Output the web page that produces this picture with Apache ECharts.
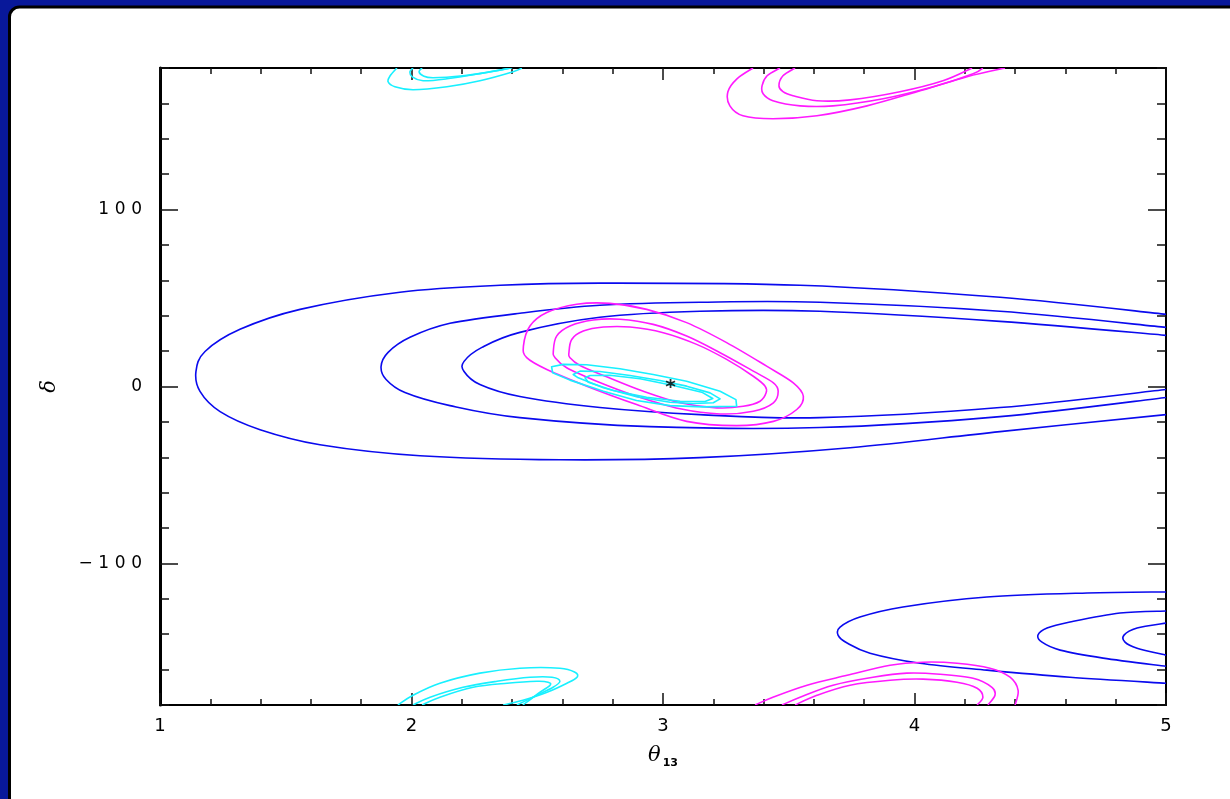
<!DOCTYPE html>
<html><head><meta charset="utf-8">
<script src="https://cdn.jsdelivr.net/npm/echarts@6/dist/echarts.min.js"></script>
<style>html,body{margin:0;padding:0;background:#08189a;}#c{width:1230px;height:799px;}</style>
</head><body><div id="c"></div>
<script>
// ---- data (theta13 [deg], delta [deg]) ----
const xTickValues = [1, 2, 3, 4, 5];
const yTickLabels = [-100, 0, 100];

// central blue contours (open on the right edge)
const blueOuter = [[5.0,40.8],[4.34,50.4],[3.545,57.2],[2.749,58.4],[2.352,57.2],[1.954,53.3],[1.557,43.6],[1.318,32.3],[1.179,19.8],[1.143,8.5],[1.159,-2.8],[1.239,-14.2],[1.398,-24.4],[1.636,-32.9],[2.034,-39.1],[2.59,-41.4],[3.147,-40.2],[3.744,-34.6],[4.34,-25.5],[5.0,-15.9]];
const blueMiddle = [[5.0,33.4],[4.34,42.5],[3.624,47.6],[3.147,47.6],[2.749,45.9],[2.431,41.4],[2.153,35.7],[1.994,27.8],[1.907,19.3],[1.879,11.3],[1.899,4.0],[1.974,-3.4],[2.153,-10.8],[2.431,-17.6],[2.948,-22.7],[3.624,-23.2],[4.34,-17.0],[5.0,-6.2]];
const blueInner = [[5.0,28.9],[4.34,36.8],[3.624,42.5],[3.147,42.5],[2.749,39.1],[2.431,30.6],[2.28,22.1],[2.209,14.2],[2.209,8.5],[2.272,1.1],[2.431,-5.7],[2.749,-11.9],[3.147,-15.9],[3.624,-17.6],[4.34,-11.9],[5.0,-1.7]];
// lower-right blue contours
const blueLowOuter = [[5.0,-116.1],[4.686,-116.7],[4.288,-119.0],[3.954,-124.6],[3.783,-130.3],[3.704,-136.0],[3.696,-140.5],[3.732,-145.0],[3.823,-150.7],[4.022,-156.4],[4.288,-160.3],[4.618,-164.3],[5.0,-167.7]];
const blueLowMiddle = [[5.0,-126.9],[4.817,-128.0],[4.618,-133.1],[4.527,-136.5],[4.491,-140.5],[4.507,-144.5],[4.579,-149.0],[4.75,-153.5],[5.0,-158.1]];
const blueLowInner = [[5.0,-133.7],[4.885,-136.5],[4.833,-140.5],[4.837,-144.5],[4.885,-147.9],[5.0,-151.8]];

// central magenta contours (closed)
const magOuter = [[2.445,22.8],[2.471,34.2],[2.538,41.8],[2.657,46.5],[2.789,47.0],[2.935,43.6],[3.094,36.1],[3.253,24.8],[3.412,11.5],[3.518,2.1],[3.558,-5.5],[3.532,-13.0],[3.439,-19.7],[3.293,-22.1],[3.094,-19.7],[2.895,-10.2],[2.697,0.2],[2.538,9.6],[2.458,16.3]];
const magMiddle = [[2.564,20.0],[2.577,28.5],[2.63,34.2],[2.723,37.6],[2.829,38.0],[2.961,35.1],[3.094,28.5],[3.227,19.1],[3.359,8.7],[3.439,2.1],[3.458,-2.7],[3.439,-9.2],[3.359,-14.0],[3.227,-15.5],[3.068,-12.6],[2.895,-5.5],[2.736,3.0],[2.617,10.6],[2.571,16.3]];
const magInner = [[2.626,19.1],[2.637,26.6],[2.683,31.3],[2.763,33.6],[2.869,33.6],[3.001,30.4],[3.134,23.8],[3.253,15.3],[3.359,5.8],[3.406,0.2],[3.41,-3.6],[3.386,-8.3],[3.319,-11.2],[3.214,-12.1],[3.068,-9.2],[2.922,-2.7],[2.776,5.5],[2.67,11.9],[2.63,16.3]];
// magenta at delta = +180 / -180
const magTopOuter = [[3.358,180],[3.294,173.9],[3.258,166.6],[3.266,158.6],[3.318,153.0],[3.437,151.3],[3.612,153.0],[3.811,158.6],[4.01,166.6],[4.209,175.1],[4.36,180]];
const magTopMiddle = [[3.465,180],[3.414,175.6],[3.394,170.0],[3.398,165.4],[3.437,161.5],[3.545,158.6],[3.676,158.6],[3.875,162.6],[4.074,169.4],[4.233,176.8],[4.272,180]];
const magTopInner = [[3.525,180],[3.477,175.6],[3.461,170.0],[3.477,166.6],[3.517,164.3],[3.612,161.5],[3.744,162.0],[3.942,166.6],[4.113,172.8],[4.229,180]];
const magBotOuter = [[3.366,-180],[3.437,-175.6],[3.573,-168.8],[3.732,-163.2],[3.903,-157.5],[4.034,-155.8],[4.169,-156.4],[4.3,-159.2],[4.38,-164.3],[4.412,-171.7],[4.4,-180]];
const magBotMiddle = [[3.473,-180],[3.545,-175.6],[3.676,-168.8],[3.835,-164.3],[3.97,-162.0],[4.101,-162.6],[4.233,-164.9],[4.308,-170.0],[4.32,-174.5],[4.292,-180]];
const magBotInner = [[3.525,-180],[3.612,-174.5],[3.744,-168.8],[3.903,-166.0],[4.034,-165.4],[4.169,-167.1],[4.249,-170.5],[4.272,-175.6],[4.249,-180]];

// central cyan contours (closed, polygonal)
const cyanOuter = [[2.557,11.2],[2.561,7.8],[2.63,3.6],[2.763,-2.7],[2.895,-7.9],[3.028,-10.8],[3.16,-11.5],[3.293,-11.2],[3.29,-7.4],[3.227,-2.7],[3.094,3.0],[2.961,6.8],[2.829,10.0],[2.697,12.3],[2.604,12.5]];
const cyanMiddle = [[2.643,6.8],[2.663,4.9],[2.763,-0.7],[2.895,-5.8],[3.028,-8.9],[3.12,-9.6],[3.2,-9.2],[3.227,-7.0],[3.187,-3.6],[3.094,0.2],[2.988,3.4],[2.869,6.2],[2.749,8.5],[2.67,8.7]];
const cyanInner = [[2.69,4.9],[2.703,2.4],[2.802,-2.3],[2.935,-6.1],[3.068,-8.3],[3.167,-8.5],[3.198,-6.8],[3.154,-3.2],[3.041,0.6],[2.909,4.4],[2.789,6.4],[2.71,6.2]];
// cyan at delta = +180 / -180
const cyanTopOuter = [[1.942,180],[1.915,175.6],[1.907,172.2],[1.934,169.4],[2.006,167.7],[2.141,169.4],[2.272,172.8],[2.404,177.9],[2.439,180]];
const cyanTopMiddle = [[2.006,180],[1.994,177.9],[2.002,175.1],[2.046,172.8],[2.141,173.9],[2.272,176.8],[2.38,179.6],[2.4,180]];
const cyanTopInner = [[2.042,180],[2.03,177.9],[2.046,175.6],[2.085,174.5],[2.205,175.6],[2.34,178.5],[2.392,180]];
const cyanBotOuter = [[1.946,-180],[2.006,-174.5],[2.113,-167.7],[2.272,-162.0],[2.431,-159.2],[2.59,-159.2],[2.65,-161.5],[2.658,-164.3],[2.618,-167.7],[2.539,-172.8],[2.443,-177.3],[2.364,-180]];
const cyanBotMiddle = [[2.006,-180],[2.074,-175.6],[2.205,-170.0],[2.34,-166.6],[2.471,-164.3],[2.559,-164.3],[2.59,-166.6],[2.563,-170.0],[2.499,-174.5],[2.419,-180]];
const cyanBotInner = [[2.042,-180],[2.113,-175.6],[2.245,-170.0],[2.38,-167.7],[2.499,-166.6],[2.543,-167.1],[2.551,-168.8],[2.511,-172.8],[2.443,-180]];

const bestFit = [[3.03, 1.7]];

// ---- chart ----
const BLUE = '#0a0aee', MAG = '#ff1aff', CYAN = '#18f0ff';
const FONT = 'DejaVu Sans';

// Catmull-Rom bezier path through pixel points (rendering only)
function smoothPath(pts, isClosed) {
  const n = pts.length;
  const get = i => isClosed ? pts[(i + n) % n] : pts[Math.max(0, Math.min(n - 1, i))];
  let d = 'M' + pts[0][0] + ',' + pts[0][1];
  const segs = isClosed ? n : n - 1;
  for (let i = 0; i < segs; i++) {
    const p0 = get(i - 1), p1 = get(i), p2 = get(i + 1), p3 = get(i + 2);
    const c1 = [p1[0] + (p2[0] - p0[0]) / 6, p1[1] + (p2[1] - p0[1]) / 6];
    const c2 = [p2[0] - (p3[0] - p1[0]) / 6, p2[1] - (p3[1] - p1[1]) / 6];
    d += ' C' + c1[0] + ',' + c1[1] + ' ' + c2[0] + ',' + c2[1] + ' ' + p2[0] + ',' + p2[1];
  }
  if (isClosed) d += ' Z';
  return d;
}
function polyPath(pts) {
  return 'M' + pts.map(p => p[0] + ',' + p[1]).join(' L') + ' Z';
}
function contour(data, color, kind) {
  return {type:'custom', coordinateSystem:'cartesian2d', data:[data[0]], clip:true, z:3, silent:true, animation:false,
    renderItem:(params, api) => {
      const pts = data.map(p => api.coord(p));
      const d = kind === 'poly' ? polyPath(pts) : smoothPath(pts, kind === 'loop');
      return {type:'path', shape:{pathData:d}, style:{fill:'none', stroke:color, lineWidth:1.6, lineJoin:'round'}};
    }};
}
const series = [
  contour(blueOuter, BLUE, 'open'), contour(blueMiddle, BLUE, 'open'), contour(blueInner, BLUE, 'open'),
  contour(blueLowOuter, BLUE, 'open'), contour(blueLowMiddle, BLUE, 'open'), contour(blueLowInner, BLUE, 'open'),
  contour(magOuter, MAG, 'loop'), contour(magMiddle, MAG, 'loop'), contour(magInner, MAG, 'loop'),
  contour(magTopOuter, MAG, 'open'), contour(magTopMiddle, MAG, 'open'), contour(magTopInner, MAG, 'open'),
  contour(magBotOuter, MAG, 'open'), contour(magBotMiddle, MAG, 'open'), contour(magBotInner, MAG, 'open'),
  contour(cyanOuter, CYAN, 'poly'), contour(cyanMiddle, CYAN, 'poly'), contour(cyanInner, CYAN, 'poly'),
  contour(cyanTopOuter, CYAN, 'open'), contour(cyanTopMiddle, CYAN, 'open'), contour(cyanTopInner, CYAN, 'open'),
  contour(cyanBotOuter, CYAN, 'open'), contour(cyanBotMiddle, CYAN, 'open'), contour(cyanBotInner, CYAN, 'open'),
  {type:'scatter', data:bestFit, z:5, silent:true, animation:false,
   symbol:'path://M0,-5L0,5M-4.33,-2.5L4.33,2.5M-4.33,2.5L4.33,-2.5', symbolSize:9,
   itemStyle:{color:'rgba(0,0,0,0)', borderColor:'#000', borderWidth:1.8}}
];

const tickStyle = {color:'#111', width:1.5};
const spaced = s => s.split('').join('\u2004');
function xAx(pos, interval, len, showLine, labels) {
  return {type:'value', min:1, max:5, interval, position:pos, splitLine:{show:false},
    axisLine:{show:showLine, onZero:false, lineStyle:{color:'#000', width:2}},
    axisTick:{show:true, inside:true, length:len, lineStyle:tickStyle},
    axisLabel: labels ? {show:true, margin:12, fontSize:18, color:'#000', fontFamily:FONT,
      showMinLabel:true, showMaxLabel:true, formatter: v => xTickValues.includes(v) ? String(v) : ''} : {show:false}};
}
function yAx(pos, opts) {
  return Object.assign({type:'value', min:-180, max:180, position:pos, splitLine:{show:false},
    axisLine:{show:false, onZero:false}, axisLabel:{show:false}}, opts);
}
const fmtY = v => v < 0 ? '\u2212\u2004' + spaced(String(-v)) : spaced(String(v));

const xAxes = [
  Object.assign(xAx('bottom', 1, 12, true, true), {
    name:'{t|θ}{s|13}', nameLocation:'middle', nameGap:40,
    nameTextStyle:{rich:{t:{fontSize:21, fontStyle:'italic', fontFamily:'DejaVu Serif', color:'#000', verticalAlign:'top', lineHeight:24},
                         s:{fontSize:11, fontFamily:FONT, fontWeight:'bold', color:'#000', verticalAlign:'bottom', lineHeight:11, padding:[0,0,0,2]}}}}),
  xAx('bottom', 0.2, 6, false, false),
  xAx('top', 1, 12, true, false),
  xAx('top', 0.2, 6, false, false)
];
const yAxes = [
  yAx('left', {interval:20, axisLine:{show:true, onZero:false, lineStyle:{color:'#000', width:3}},
    axisTick:{show:true, inside:true, length:9, lineStyle:tickStyle},
    name:'δ', nameLocation:'middle', nameGap:100, nameRotate:90,
    nameTextStyle:{fontSize:21, fontStyle:'italic', fontFamily:'DejaVu Serif', color:'#000'}}),
  yAx('left', {axisTick:{show:true, inside:true, length:18, customValues:yTickLabels, lineStyle:tickStyle},
    axisLabel:{show:true, customValues:yTickLabels, margin:18, fontSize:17, color:'#000', fontFamily:FONT, formatter:fmtY}}),
  yAx('right', {interval:20, axisLine:{show:true, onZero:false, lineStyle:{color:'#000', width:2}},
    axisTick:{show:true, inside:true, length:9, lineStyle:tickStyle}}),
  yAx('right', {axisTick:{show:true, inside:true, length:18, customValues:yTickLabels, lineStyle:tickStyle}})
];

const chart = echarts.init(document.getElementById('c'), null, {renderer:'canvas'});
chart.setOption({
  backgroundColor:'#08189a',
  animation:false,
  graphic:[{type:'rect', z:-10, silent:true, shape:{x:9.5, y:7, width:1400, height:1000, r:[10,0,0,0]},
            style:{fill:'#fff', stroke:'#000', lineWidth:3}}],
  grid:{left:160, right:64, top:68, bottom:94, containLabel:false},
  xAxis:xAxes,
  yAxis:yAxes,
  series
});
</script>
</body></html>
